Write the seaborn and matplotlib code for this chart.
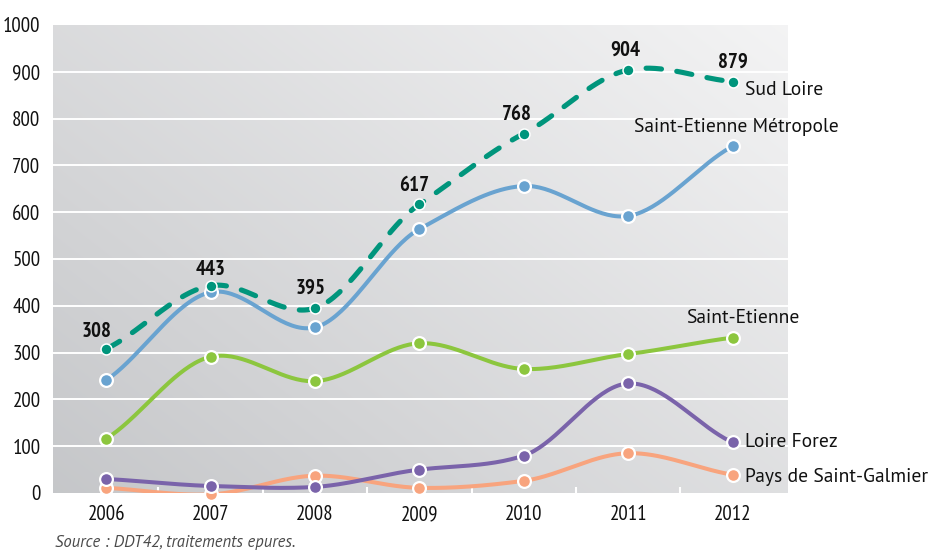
import numpy as np
import pandas as pd
import matplotlib
matplotlib.use("Agg")
import matplotlib.pyplot as plt
from matplotlib import font_manager as fm
import seaborn as sns

years = [2006, 2007, 2008, 2009, 2010, 2011, 2012]
sud_loire = [308, 443, 395, 617, 768, 904, 879]
st_etienne_metropole = [241, 429, 354, 564, 656, 592, 741]
st_etienne = [116, 291, 239, 320, 265, 297, 332]
loire_forez = [30, 15, 13, 50, 80, 234, 108]
pays_st_galmier = [11, -3, 37, 11, 26, 85, 39]

series_names = ["Pays de Saint-Galmier", "Loire Forez", "Saint-Etienne",
                "Saint-Etienne Métropole", "Sud Loire"]
series_values = [pays_st_galmier, loire_forez, st_etienne,
                 st_etienne_metropole, sud_loire]
colors = {"Sud Loire": "#00957c",
          "Saint-Etienne Métropole": "#69a3d0",
          "Saint-Etienne": "#8cc63e",
          "Loire Forez": "#7a63aa",
          "Pays de Saint-Galmier": "#f8a47e"}
yticks = [0, 100, 200, 300, 400, 500, 600, 700, 800, 900, 1000]
source_text = "Source : DDT42, traitements epures."

sns.set_theme(style="white")
available = {f.name for f in fm.fontManager.ttflist}
narrow = "PT Sans Narrow" if "PT Sans Narrow" in available else "DejaVu Sans"
regular = "PT Sans" if "PT Sans" in available else "DejaVu Sans"
plt.rcParams['font.family'] = [regular, 'DejaVu Sans']

PX = 72.0 / 100.0  # points per pixel


def catmull(xs, ys, n=40, k_t=0.8):
    xs = np.asarray(xs, float)
    ys = np.asarray(ys, float)
    k = len(ys)
    m = np.zeros(k)
    m[1:-1] = k_t * (ys[2:] - ys[:-2]) / 2.0
    m[0] = k_t * (ys[1] - ys[0])
    m[-1] = k_t * (ys[-1] - ys[-2])
    out_x, out_y = [], []
    for i in range(k - 1):
        t = np.linspace(0, 1, n, endpoint=(i == k - 2))
        h00 = 2 * t**3 - 3 * t**2 + 1
        h10 = t**3 - 2 * t**2 + t
        h01 = -2 * t**3 + 3 * t**2
        h11 = t**3 - t**2
        out_y.append(h00 * ys[i] + h10 * m[i] + h01 * ys[i + 1] + h11 * m[i + 1])
        out_x.append(xs[i] + t * (xs[i + 1] - xs[i]))
    return np.concatenate(out_x), np.concatenate(out_y)


fig = plt.figure(figsize=(9.29, 5.5), dpi=100)
ax = fig.add_axes([53 / 929, 57 / 550, 735 / 929, 468 / 550])

# gradient background
gx, gy = np.meshgrid(np.linspace(0, 1, 300), np.linspace(0, 1, 300))
t = 0.55 * gx + 0.45 * gy
dark = np.array([0.775, 0.78, 0.79])
light = np.array([0.955, 0.955, 0.958])
img = dark[None, None, :] + (light - dark)[None, None, :] * t[:, :, None]
ax.imshow(img, extent=(0, 1, 0, 1), transform=ax.transAxes, origin="lower",
          aspect="auto", zorder=0, interpolation="bilinear")

for name, vals in zip(series_names, series_values):
    sx, sy = catmull(years, vals)
    df_s = pd.DataFrame({"x": sx, "y": sy})
    df_p = pd.DataFrame({"x": years, "y": vals})
    is_sud = name == "Sud Loire"
    z = 5 if is_sud else 3
    sns.lineplot(data=df_s, x="x", y="y", ax=ax, color=colors[name],
                 lw=3.7 if is_sud else 2.9, sort=False, zorder=z,
                 estimator=None)
    line = ax.lines[-1]
    line.set_solid_capstyle("round")
    if is_sud:
        line.set_dashes((3.0, 3.0))
        line.set_dash_capstyle("round")
    sns.scatterplot(data=df_p, x="x", y="y", ax=ax, color=colors[name],
                    s=62 if is_sud else 85, edgecolor="white",
                    linewidth=1.1 if is_sud else 1.6, zorder=z + 0.5,
                    clip_on=False)

# value labels for Sud Loire (offsets in pixels)
label_dx = [-10, 0, -4, -5, -7, -3, 0]
label_dy = [17, 16, 20, 19, 19, 20, 19]
for x, v, dx, dy in zip(years, sud_loire, label_dx, label_dy):
    ax.annotate(str(v), (x, v), xytext=(dx * PX, dy * PX),
                textcoords="offset points", ha="center", va="center",
                fontsize=15, fontweight="bold", family=[narrow, "DejaVu Sans"],
                color="#111111", zorder=10)

# series labels
lab_kw = dict(textcoords="offset points", fontsize=14, color="#111111",
              zorder=10)
ax.annotate("Sud Loire", (years[-1], sud_loire[-1]), xytext=(12 * PX, -8 * PX),
            ha="left", va="center", **lab_kw)
ax.annotate("Saint-Etienne Métropole", (years[-1], st_etienne_metropole[-1]),
            xytext=(4 * PX, 19 * PX), ha="center", va="center", **lab_kw)
ax.annotate("Saint-Etienne", (years[-1], st_etienne[-1]),
            xytext=(10 * PX, 20 * PX), ha="center", va="center", **lab_kw)
ax.annotate("Loire Forez", (years[-1], loire_forez[-1]),
            xytext=(12 * PX, 0), ha="left", va="center", **lab_kw)
ax.annotate("Pays de Saint-Galmier", (years[-1], pays_st_galmier[-1]),
            xytext=(12 * PX, -2 * PX), ha="left", va="center", **lab_kw)

ax.set_xlim(2005.49, 2012.53)
ax.set_ylim(0, 1000)
ax.set_yticks(yticks)
ax.set_yticklabels([str(v) for v in yticks])
ax.set_xticks(years)
ax.set_xticklabels([str(y) for y in years])
ax.set_xticks(np.arange(2006.5, 2012, 1.0), minor=True)
ax.tick_params(axis="x", which="minor", direction="in", length=4.5, width=1.5,
               color="white", bottom=True)
ax.tick_params(axis="both", which="major", length=0, labelsize=15,
               colors="#111111")
for lbl in ax.get_xticklabels() + ax.get_yticklabels():
    lbl.set_family([narrow, "DejaVu Sans"])
ax.tick_params(axis="y", pad=9)
ax.tick_params(axis="x", pad=9)
ax.grid(False)
for yv in yticks[1:-1]:
    ax.axhline(yv, color="white", lw=1.4, zorder=1)
for s in ax.spines.values():
    s.set_visible(False)
ax.set_xlabel("")
ax.set_ylabel("")

fig.text(55 / 929, 1 - 543 / 550, source_text, fontsize=12, style="italic",
         color="#4a4a4a", ha="left", va="center")

fig.savefig("out.png", dpi=100)
